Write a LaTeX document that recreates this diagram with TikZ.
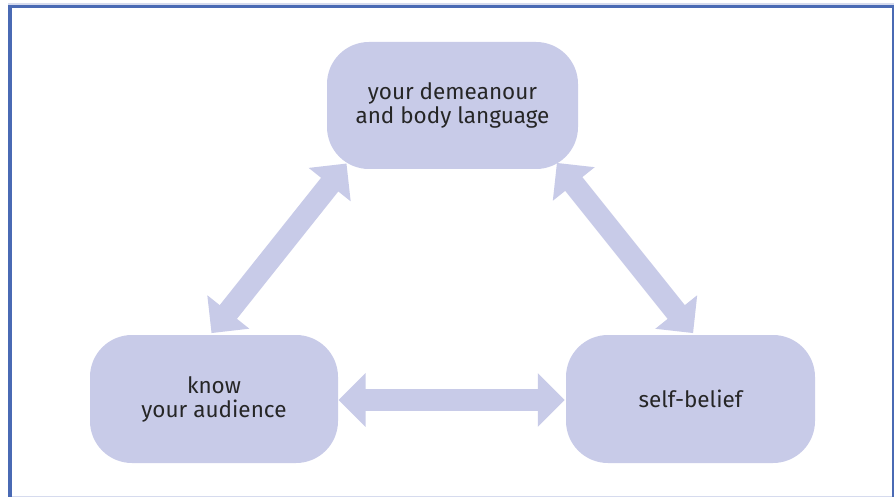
\documentclass[tikz,border=0pt]{standalone}
\usepackage{fontspec}
\setmainfont{Fira Sans}
\usetikzlibrary{arrows.meta,calc}
\definecolor{boxfill}{RGB}{200,203,232}
\definecolor{frameblue}{RGB}{74,106,180}
\definecolor{framelight}{RGB}{214,219,238}
\tikzset{
  roundbox/.style={fill=boxfill, draw=none, rounded corners=42pt, inner sep=0pt,
    align=center, font=\fontsize{22.5}{24}\selectfont, text=black!85},
  fatarrow/.style={draw=boxfill, line width=22pt,
    {Triangle[width=52pt,length=27pt]}-{Triangle[width=52pt,length=27pt]}}
}
\begin{document}
\begin{tikzpicture}[x=1pt,y=-1pt]
\useasboundingbox (0,0) rectangle (894,497);
\fill[white] (0,0) rectangle (894,497);
% frame
\fill[framelight] (8,3.5) rectangle (894,5);
\fill[frameblue] (8,5) rectangle (894,8.5);
\fill[frameblue] (8,5) rectangle (12.3,497);
\fill[frameblue] (892,8) rectangle (893.5,497);
\fill[framelight] (12,495.5) rectangle (892,497);
% boxes
\node[roundbox, minimum width=251pt, minimum height=127pt] (top) at (452.5,105.5) {your demeanour\\and body language};
\node[roundbox, minimum width=248pt, minimum height=128pt] (left) at (214,399) {know\\your audience};
\node[roundbox, minimum width=249pt, minimum height=128pt] (right) at (690.5,399) {self-belief};
% arrow end points
\coordinate (tl) at ($(top.south west)+(19.7,-5.7)$);
\coordinate (tr) at ($(top.south east)+(-21.3,-6.3)$);
\coordinate (lt) at ($(left.north west)+(121.7,-1.7)$);
\coordinate (le) at ($(left.east)+(0.3,1)$);
\coordinate (rt) at ($(right.north west)+(127.3,-1.7)$);
\coordinate (rw) at ($(right.west)+(-1,1)$);
\draw[fatarrow] (lt) -- (tl);
\draw[fatarrow] (tr) -- (rt);
\draw[fatarrow] (le) -- (rw);
\end{tikzpicture}
\end{document}
